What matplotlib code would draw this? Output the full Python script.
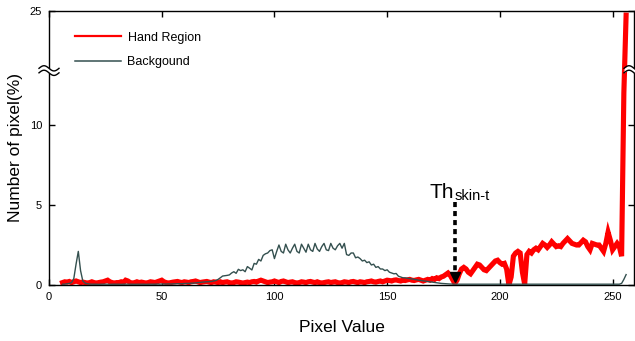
import numpy as np
import matplotlib
matplotlib.use("Agg")
import matplotlib.pyplot as plt
from matplotlib.lines import Line2D

plt.rcParams['font.family'] = ['Liberation Sans', 'DejaVu Sans']

# ---------------- data ----------------
pixel_values = list(range(6, 257))

hand_region = [
    0.15, 0.2, 0.18, 0.22, 0.15, 0.2, 0.25, 0.2, 0.15, 0.18,
    0.15, 0.12, 0.15, 0.2, 0.15, 0.12, 0.15, 0.18, 0.2, 0.25,
    0.3, 0.2, 0.15, 0.12, 0.15, 0.15, 0.2, 0.15, 0.3, 0.25,
    0.15, 0.12, 0.15, 0.2, 0.15, 0.18, 0.15, 0.12, 0.15, 0.2,
    0.18, 0.15, 0.2, 0.25, 0.3, 0.2, 0.15, 0.12, 0.15, 0.18,
    0.2, 0.22, 0.18, 0.15, 0.2, 0.18, 0.15, 0.2, 0.22, 0.25,
    0.2, 0.15, 0.18, 0.2, 0.22, 0.18, 0.15, 0.2, 0.18, 0.15,
    0.2, 0.15, 0.18, 0.2, 0.15, 0.12, 0.15, 0.2, 0.18, 0.15,
    0.12, 0.15, 0.18, 0.15, 0.2, 0.22, 0.18, 0.25, 0.3, 0.25,
    0.2, 0.15, 0.18, 0.2, 0.25, 0.2, 0.15, 0.22, 0.25, 0.2,
    0.15, 0.18, 0.2, 0.15, 0.12, 0.15, 0.2, 0.18, 0.15, 0.2,
    0.22, 0.18, 0.15, 0.2, 0.15, 0.12, 0.15, 0.18, 0.2, 0.15,
    0.18, 0.2, 0.15, 0.12, 0.15, 0.2, 0.18, 0.15, 0.2, 0.22,
    0.18, 0.15, 0.2, 0.18, 0.15, 0.2, 0.22, 0.25, 0.2, 0.18,
    0.22, 0.25, 0.2, 0.25, 0.3, 0.28, 0.25, 0.3, 0.32, 0.28,
    0.25, 0.3, 0.28, 0.32, 0.35, 0.3, 0.28, 0.32, 0.35, 0.3,
    0.25, 0.3, 0.35, 0.3, 0.4, 0.35, 0.45, 0.4, 0.5, 0.55,
    0.65, 0.75, 0.6, 0.35, 0.1, 0.3, 0.7, 1.0, 1.1, 1.0,
    0.8, 0.7, 0.9, 1.1, 1.3, 1.25, 1.1, 0.95, 0.9, 1.05,
    1.2, 1.35, 1.5, 1.55, 1.4, 1.3, 1.35, 1.0, 0.0, 0.5,
    1.8, 2.0, 2.1, 2.0, 0.8, 0.05, 1.9, 2.1, 2.0, 2.2,
    2.3, 2.2, 2.4, 2.6, 2.5, 2.35, 2.5, 2.7, 2.55, 2.4,
    2.45, 2.4, 2.6, 2.75, 2.9, 2.75, 2.6, 2.55, 2.5, 2.5,
    2.65, 2.8, 2.7, 2.4, 2.2, 2.6, 2.55, 2.5, 2.5, 2.3,
    2.1, 2.6, 3.3, 2.8, 2.2, 2.4, 2.6, 2.4, 1.8, 12.0,
    24.2,
]

background = [
    0.05, 0.05, 0.08, 0.1, 0.15, 0.4, 1.3, 2.1, 0.9, 0.25,
    0.12, 0.08, 0.06, 0.05, 0.05, 0.05, 0.04, 0.05, 0.05, 0.05,
    0.05, 0.04, 0.05, 0.05, 0.05, 0.05, 0.04, 0.05, 0.05, 0.05,
    0.05, 0.05, 0.04, 0.05, 0.05, 0.05, 0.05, 0.04, 0.05, 0.05,
    0.05, 0.05, 0.06, 0.05, 0.06, 0.06, 0.06, 0.07, 0.06, 0.07,
    0.07, 0.08, 0.08, 0.08, 0.09, 0.1, 0.1, 0.11, 0.12, 0.13,
    0.15, 0.16, 0.18, 0.19, 0.2, 0.21, 0.22, 0.25, 0.28, 0.35,
    0.45, 0.56, 0.58, 0.6, 0.63, 0.75, 0.83, 0.73, 0.98, 0.9,
    0.95, 0.83, 1.15, 1.05, 0.94, 1.35, 1.3, 1.6, 1.5, 1.85,
    1.95, 2.0, 2.15, 2.2, 1.65, 2.1, 2.5, 2.1, 2.0, 2.55,
    2.2, 2.0, 2.3, 2.55, 2.1, 2.0, 2.55, 2.3, 2.05, 2.55,
    2.2, 2.1, 2.6, 2.25, 2.1, 2.4, 2.6, 2.2, 2.15, 2.6,
    2.3, 2.2, 2.45, 2.6, 2.3, 2.6, 1.9, 1.85, 2.0, 2.0,
    1.7, 1.75, 1.65, 1.5, 1.55, 1.4, 1.45, 1.25, 1.3, 1.1,
    1.15, 1.0, 1.0, 0.9, 0.95, 0.8, 0.75, 0.7, 0.72, 0.55,
    0.5, 0.45, 0.45, 0.42, 0.4, 0.38, 0.35, 0.33, 0.3, 0.28,
    0.26, 0.24, 0.22, 0.2, 0.18, 0.16, 0.14, 0.12, 0.1, 0.09,
    0.08, 0.07, 0.06, 0.06, 0.05, 0.05, 0.05, 0.05, 0.05, 0.05,
    0.05, 0.05, 0.05, 0.05, 0.05, 0.05, 0.05, 0.05, 0.05, 0.05,
    0.05, 0.05, 0.05, 0.05, 0.05, 0.05, 0.05, 0.05, 0.05, 0.05,
    0.05, 0.05, 0.05, 0.05, 0.05, 0.05, 0.05, 0.05, 0.05, 0.05,
    0.05, 0.05, 0.05, 0.05, 0.05, 0.05, 0.05, 0.05, 0.05, 0.05,
    0.05, 0.05, 0.05, 0.05, 0.05, 0.05, 0.05, 0.05, 0.05, 0.05,
    0.05, 0.05, 0.05, 0.05, 0.05, 0.05, 0.05, 0.05, 0.05, 0.05,
    0.05, 0.05, 0.05, 0.05, 0.05, 0.05, 0.05, 0.05, 0.1, 0.35,
    0.65,
]

x_ticks = [0, 50, 100, 150, 200, 250]
y_ticks = [0, 5, 10, 25]
threshold = 180
threshold_label_y = 5.2

# ---------------- broken y scale ----------------
BREAK = 13.4
K = 0.321


def fwd(y):
    y = np.asarray(y, dtype=float)
    return np.where(y <= BREAK, y, BREAK + (y - BREAK) * K)


def inv(y):
    y = np.asarray(y, dtype=float)
    return np.where(y <= BREAK, y, BREAK + (y - BREAK) / K)


fig = plt.figure(figsize=(6.35, 3.41), dpi=100)
ax = fig.add_axes([49 / 635, 56 / 341, 585 / 635, 274 / 341])
ax.set_yscale('function', functions=(fwd, inv))

red = '#ff0000'
gray = '#34504f'

ax.plot(pixel_values, hand_region, color=red, lw=3.7, zorder=2,
        solid_joinstyle='miter')
ax.plot(pixel_values, background, color=gray, lw=1.0, zorder=3)

ax.set_xlim(0, 259.5)
ax.set_ylim(0, 25)
ax.set_xticks(x_ticks)
ax.set_yticks(y_ticks)
ax.tick_params(direction='in', top=True, right=True, length=4, width=1,
               labelsize=8, pad=5, colors='black')
for s in ax.spines.values():
    s.set_linewidth(1.0)

ax.set_xlabel('Pixel Value', fontsize=12.5, labelpad=13)
ax.set_ylabel('Number of pixel(%)', fontsize=12.5, labelpad=5)

# threshold annotation
ax.plot([threshold, threshold], [threshold_label_y, 0.85], color='black',
        lw=2.6, ls=(0, (1.4, 1.1)), zorder=5)
ax.plot([threshold], [0.47], marker='v', ms=7.5, color='black', zorder=5)
ax.text(threshold - 11, 5.44, 'Th', fontsize=15, ha='left', va='baseline')
ax.text(threshold - 0.3, 5.32, 'skin-t', fontsize=10.5, ha='left', va='baseline')

# break marks on the y axis
frac = fwd(BREAK) / fwd(25)
u = np.linspace(0, 1, 60)
w = 20 / 585
amp = 2.6 / 274
sep = 4.5 / 274
for xc in (0.0, 1.0):
    xs = xc + (u - 0.5) * w
    y_up = frac + sep / 2 + amp * np.sin(2 * np.pi * u)
    y_lo = frac - sep / 2 + amp * np.sin(2 * np.pi * u)
    ax.fill_between(xs, y_lo, y_up, transform=ax.transAxes, color='white',
                    clip_on=False, zorder=6, lw=0)
    ax.plot(xs, y_up, transform=ax.transAxes, color='black', lw=1.0,
            clip_on=False, zorder=7)
    ax.plot(xs, y_lo, transform=ax.transAxes, color='black', lw=1.0,
            clip_on=False, zorder=7)

handles = [Line2D([], [], color=red, lw=1.6), Line2D([], [], color=gray, lw=1.1)]
ax.legend(handles, ['Hand Region', 'Backgound'], loc='upper left',
          bbox_to_anchor=(26 / 585, 0.925), borderaxespad=0, borderpad=0,
          frameon=False, fontsize=9, handlelength=3.7, handletextpad=0.5,
          labelspacing=1.0)

fig.savefig('out.png', dpi=100)
